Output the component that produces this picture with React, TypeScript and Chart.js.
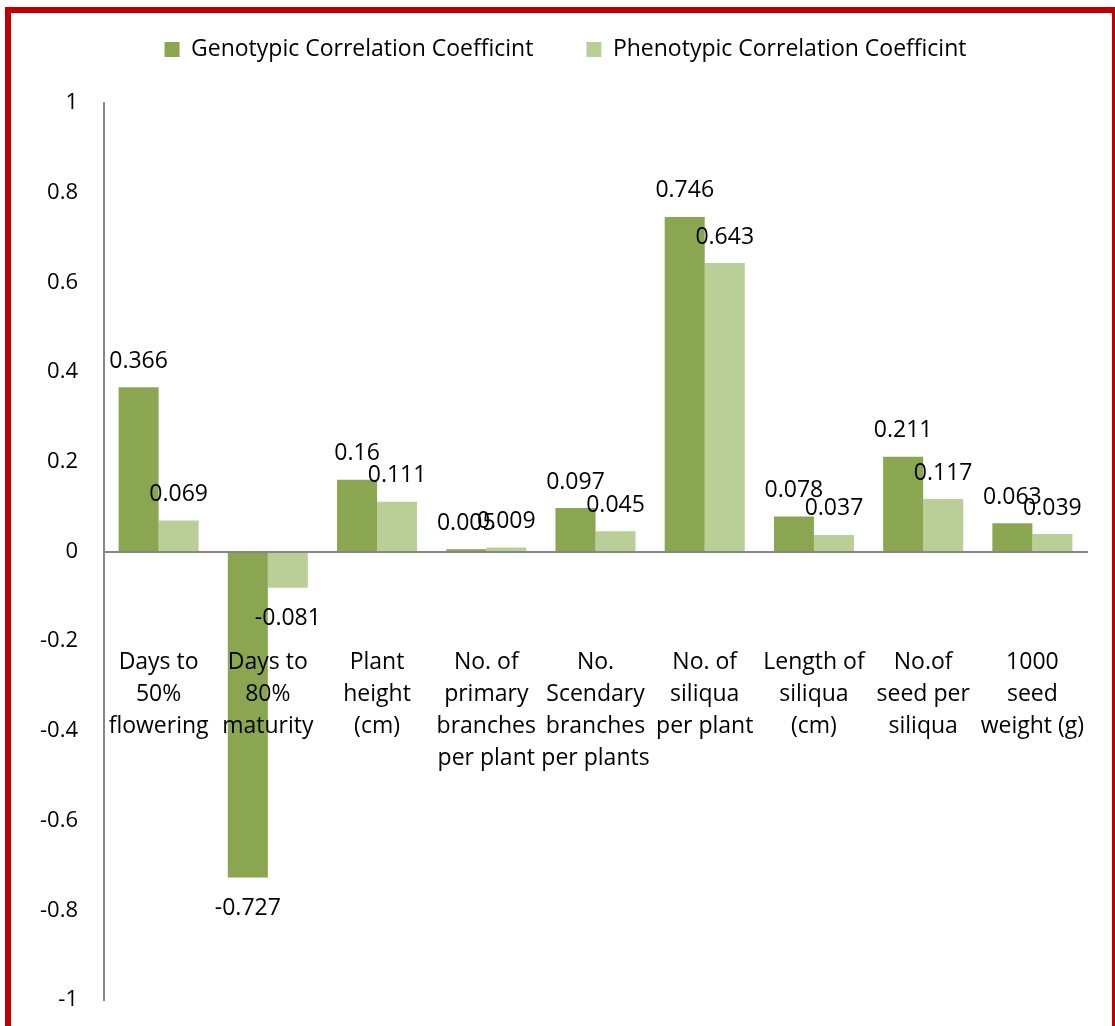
import React, { useEffect, useRef } from "react";
import { Chart, registerables } from "chart.js";

Chart.register(...registerables);

const categories: string[][] = [
  ["Days to", "50%", "flowering"],
  ["Days to", "80%", "maturity"],
  ["Plant", "height", "(cm)"],
  ["No. of", "primary", "branches", "per plant"],
  ["No.", "Scendary", "branches", "per plants"],
  ["No. of", "siliqua", "per plant"],
  ["Length of", "siliqua", "(cm)"],
  ["No.of", "seed per", "siliqua"],
  ["1000", "seed", "weight (g)"],
];

const genotypic: number[] = [0.366, -0.727, 0.16, 0.005, 0.097, 0.746, 0.078, 0.211, 0.063];
const phenotypic: number[] = [0.069, -0.081, 0.111, 0.009, 0.045, 0.643, 0.037, 0.117, 0.039];

const seriesNames: string[] = ["Genotypic Correlation Coefficint", "Phenotypic Correlation Coefficint"];
const yTicks: number[] = [-1, -0.8, -0.6, -0.4, -0.2, 0, 0.2, 0.4, 0.6, 0.8, 1];

const FONT = '"Open Sans", "DejaVu Sans", sans-serif';

const valueLabels = {
  id: "valueLabels",
  afterDatasetsDraw(chart: any) {
    const ctx = chart.ctx;
    ctx.save();
    ctx.font = `23px ${FONT}`;
    ctx.fillStyle = "#000";
    ctx.textAlign = "center";
    ctx.textBaseline = "middle";
    chart.data.datasets.forEach((ds: any, di: number) => {
      const meta = chart.getDatasetMeta(di);
      meta.data.forEach((el: any, i: number) => {
        const v = ds.data[i];
        const y = v >= 0 ? el.y - 26 : el.y + 31;
        ctx.fillText(String(v), el.x, y);
      });
    });
    ctx.restore();
  },
};

const legendSpacer = {
  id: "legendSpacer",
  beforeInit(chart: any) {
    const leg = chart.legend;
    if (!leg) return;
    const orig = leg.fit;
    leg.fit = function () {
      orig.call(this);
      this.height += 32;
    };
  },
  afterLayout(chart: any) {
    if (chart.legend) chart.legend.left = 44;
  },
};

export default function App() {
  const ref = useRef<HTMLCanvasElement | null>(null);
  useEffect(() => {
    if (!ref.current) return;
    const chart = new Chart(ref.current, {
      type: "bar",
      data: {
        labels: categories,
        datasets: [
          {
            label: seriesNames[0],
            data: genotypic,
            backgroundColor: "#8BA650",
            borderWidth: 0,
          },
          {
            label: seriesNames[1],
            data: phenotypic,
            backgroundColor: "#BACF97",
            borderWidth: 0,
          },
        ],
      },
      options: {
        animation: false,
        responsive: true,
        maintainAspectRatio: false,
        layout: { padding: { top: -15, left: 0, right: 28, bottom: 26 } },
        datasets: { bar: { categoryPercentage: 0.733, barPercentage: 1 } },
        plugins: {
          legend: {
            position: "top",
            labels: {
              boxWidth: 15,
              boxHeight: 15,
              padding: 53,
              color: "#000",
              font: { family: FONT, size: 23 },
            },
          },
          tooltip: { enabled: false },
        },
        scales: {
          x: {
            type: "category",
            position: { y: 0 } as any,
            afterFit(scale: any) {
              scale.paddingLeft = 0;
              scale.paddingRight = 0;
              scale.paddingTop = 0;
              scale.paddingBottom = 0;
            },
            grid: { display: false, drawTicks: false },
            border: { display: true, color: "#868686", width: 2, z: 1 } as any,
            ticks: {
              z: 1,
              autoSkip: false,
              maxRotation: 0,
              minRotation: 0,
              padding: 95,
              color: "#000",
              font: { family: FONT, size: 23, lineHeight: "32px" as any },
            },
          },
          y: {
            min: -1,
            max: 1,
            afterFit(scale: any) {
              scale.width = 104;
              scale.paddingTop = 0;
              scale.paddingBottom = 0;
              scale.paddingLeft = 0;
              scale.paddingRight = 0;
            },
            afterBuildTicks(scale: any) {
              scale.ticks = yTicks.map((v) => ({ value: v }));
            },
            grid: { display: false, drawTicks: false },
            border: { display: true, color: "#868686", width: 2 },
            ticks: {
              padding: 26,
              color: "#000",
              font: { family: FONT, size: 22 },
              callback: (v: any) => String(parseFloat(Number(v).toFixed(1))),
            },
          },
        },
      },
      plugins: [valueLabels, legendSpacer],
    });
    return () => chart.destroy();
  }, []);

  return (
    <div style={{ position: "fixed", left: 0, top: 0, width: 1115, height: 1026, background: "#fff", overflow: "hidden" }}>
      <div style={{ position: "absolute", left: 0, top: 0, width: 1115, height: 1026 }}>
        <canvas ref={ref} />
      </div>
      <div
        style={{
          position: "absolute",
          left: 5,
          top: 7,
          width: 1113,
          height: 1100,
          border: "6px solid #C00000",
          boxSizing: "border-box",
          pointerEvents: "none",
        }}
      />
    </div>
  );
}
